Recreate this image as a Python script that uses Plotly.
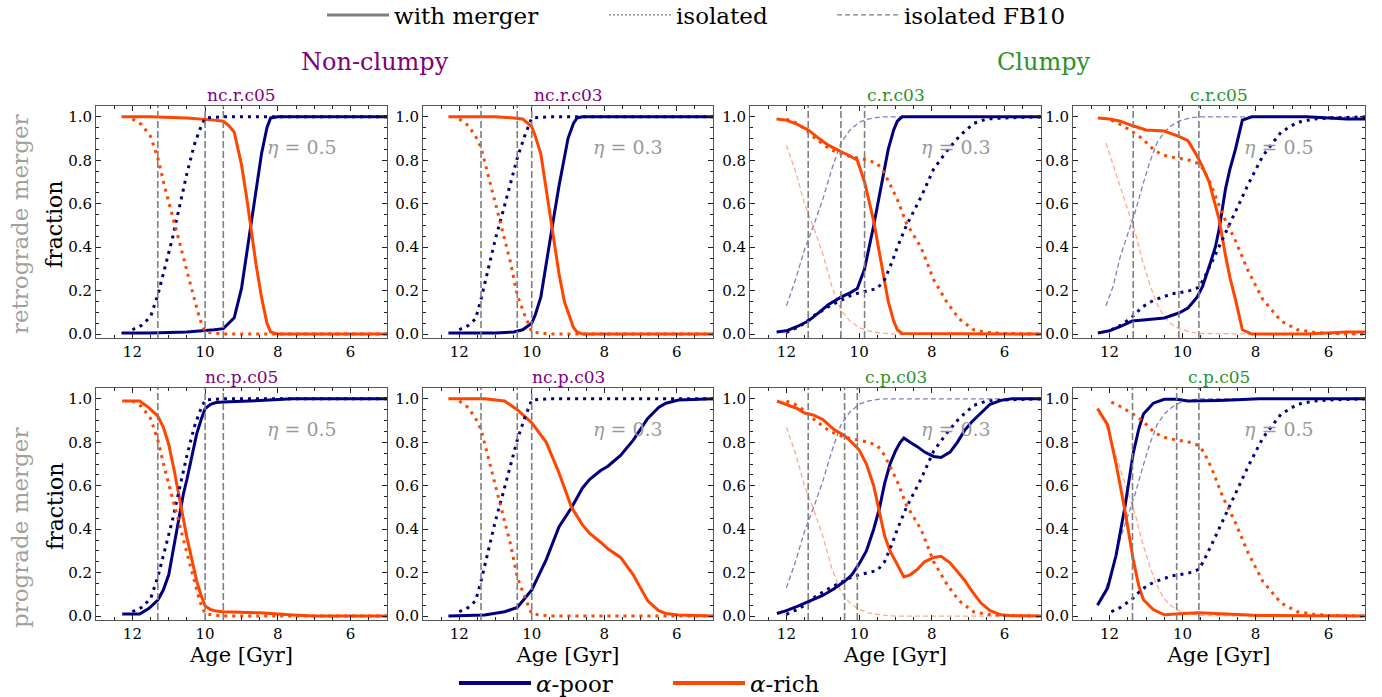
import plotly.graph_objects as go

# ---------------- data ----------------
AGE_TICKS = [12, 10, 8, 6]
FRAC_TICKS = [0.0, 0.2, 0.4, 0.6, 0.8, 1.0]

# isolated runs (dotted)
iso_nc05_age = [12.0, 11.75, 11.5, 11.3, 11.1, 10.9, 10.7, 10.5, 10.3, 10.15, 10.0, 9.5, 5.0]
iso_nc05_poor = [0.02, 0.04, 0.08, 0.18, 0.31, 0.44, 0.59, 0.74, 0.87, 0.94, 0.995, 1.0, 1.0]
iso_nc05_rich = [0.99, 0.965, 0.91, 0.81, 0.67, 0.55, 0.42, 0.29, 0.16, 0.07, 0.01, 0.0, 0.0]

iso_nc03_age = [12.0, 11.75, 11.55, 11.4, 11.2, 11.0, 10.8, 10.6, 10.4, 10.2, 10.0, 9.5, 5.0]
iso_nc03_poor = [0.02, 0.04, 0.07, 0.16, 0.30, 0.44, 0.56, 0.68, 0.81, 0.91, 0.995, 1.0, 1.0]
iso_nc03_rich = [0.99, 0.96, 0.91, 0.86, 0.73, 0.60, 0.47, 0.34, 0.18, 0.09, 0.01, 0.0, 0.0]

iso_c03_age = [12.0, 11.7, 11.5, 11.2, 10.8, 10.5, 10.2, 10.0, 9.75, 9.5, 9.3, 9.1, 8.95, 8.7,
               8.3, 7.95, 7.6, 7.25, 6.85, 6.5, 6.0, 5.0]
iso_c03_poor = [0.008, 0.03, 0.05, 0.09, 0.13, 0.155, 0.18, 0.19, 0.20, 0.21, 0.25, 0.33, 0.40, 0.50,
                0.63, 0.76, 0.84, 0.91, 0.97, 0.99, 0.995, 1.0]
iso_c03_rich = [0.99, 0.97, 0.945, 0.90, 0.85, 0.83, 0.815, 0.81, 0.80, 0.785, 0.74, 0.67, 0.62, 0.51,
                0.40, 0.25, 0.15, 0.07, 0.02, 0.008, 0.003, 0.0]

iso_c05_age = [11.95, 11.7, 11.4, 11.1, 10.8, 10.55, 10.3, 10.1, 9.8, 9.55, 9.4, 9.2, 8.9, 8.55,
               8.2, 7.8, 7.3, 6.85, 6.4, 6.0, 5.0]
iso_c05_poor = [0.02, 0.04, 0.075, 0.125, 0.155, 0.17, 0.185, 0.19, 0.20, 0.215, 0.26, 0.33, 0.44, 0.56,
                0.69, 0.82, 0.93, 0.975, 0.99, 0.995, 1.0]
iso_c05_rich = [0.985, 0.965, 0.935, 0.90, 0.85, 0.825, 0.815, 0.81, 0.80, 0.785, 0.75, 0.68, 0.55, 0.43,
                0.29, 0.16, 0.06, 0.02, 0.008, 0.003, 0.0]

# isolated FB10 runs (thin dashed)
fb10_c03_age = [12.0, 11.75, 11.5, 11.25, 11.0, 10.75, 10.5, 10.25, 10.0, 9.75, 9.4, 9.0, 8.0, 5.0]
fb10_c03_poor = [0.13, 0.25, 0.39, 0.50, 0.62, 0.76, 0.88, 0.94, 0.975, 0.99, 1.0, 1.0, 1.0, 1.0]
fb10_c03_rich = [0.87, 0.75, 0.60, 0.49, 0.37, 0.22, 0.11, 0.06, 0.03, 0.015, 0.005, 0.0, 0.0, 0.0]

fb10_c05_age = [12.1, 11.9, 11.7, 11.5, 11.3, 11.1, 10.9, 10.7, 10.5, 10.3, 10.1, 9.8, 9.5, 8.0, 5.0]
fb10_c05_poor = [0.13, 0.22, 0.36, 0.46, 0.56, 0.68, 0.79, 0.88, 0.93, 0.96, 0.98, 0.995, 1.0, 1.0, 1.0]
fb10_c05_rich = [0.88, 0.78, 0.68, 0.58, 0.47, 0.34, 0.23, 0.14, 0.08, 0.045, 0.025, 0.01, 0.003, 0.0, 0.0]

# runs with merger (solid)
m_ncr05_age = [12.3, 11.5, 10.5, 10.0, 9.75, 9.5, 9.35, 9.2, 9.0, 8.85, 8.75, 8.6, 8.45, 8.3, 8.2, 8.0, 5.0]
m_ncr05_poor = [0.005, 0.005, 0.01, 0.015, 0.02, 0.025, 0.05, 0.075, 0.21, 0.38, 0.50, 0.68, 0.83, 0.95, 0.995, 1.0, 1.0]
m_ncr05_rich = [1.0, 1.0, 0.995, 0.99, 0.985, 0.98, 0.96, 0.93, 0.78, 0.62, 0.50, 0.32, 0.17, 0.05, 0.01, 0.0, 0.0]

m_ncr03_age = [12.3, 11.0, 10.5, 10.25, 10.0, 9.9, 9.75, 9.6, 9.5, 9.4, 9.25, 9.1, 9.0, 8.85, 8.75, 8.6, 5.0]
m_ncr03_poor = [0.005, 0.005, 0.01, 0.02, 0.05, 0.09, 0.17, 0.33, 0.44, 0.53, 0.68, 0.82, 0.90, 0.97, 0.995, 1.0, 1.0]
m_ncr03_rich = [1.0, 1.0, 0.995, 0.99, 0.955, 0.91, 0.83, 0.66, 0.55, 0.45, 0.28, 0.15, 0.10, 0.03, 0.01, 0.0, 0.0]

m_crc03_age = [12.27, 12.0, 11.7, 11.4, 11.1, 10.85, 10.5, 10.25, 10.05, 9.85, 9.6, 9.35, 9.2, 9.05, 8.95, 8.82, 5.0]
m_crc03_poor = [0.01, 0.015, 0.035, 0.06, 0.10, 0.135, 0.17, 0.19, 0.21, 0.30, 0.50, 0.73, 0.85, 0.94, 0.98, 1.0, 1.0]
m_crc03_rich = [0.99, 0.985, 0.965, 0.94, 0.90, 0.87, 0.84, 0.82, 0.80, 0.70, 0.52, 0.28, 0.15, 0.06, 0.02, 0.003, 0.0]

m_crc05_age = [12.32, 12.0, 11.7, 11.38, 11.0, 10.5, 10.1, 9.85, 9.6, 9.45, 9.27, 9.1, 9.0, 8.82, 8.7,
               8.55, 8.36, 8.1, 6.6, 5.5, 5.0]
m_crc05_poor = [0.005, 0.015, 0.035, 0.06, 0.066, 0.074, 0.097, 0.12, 0.17, 0.22, 0.31, 0.40, 0.48, 0.67, 0.76,
                0.85, 0.985, 1.0, 1.0, 0.99, 0.99]
m_crc05_rich = [0.995, 0.99, 0.98, 0.96, 0.94, 0.935, 0.91, 0.89, 0.82, 0.77, 0.70, 0.60, 0.53, 0.36, 0.26,
                0.16, 0.02, 0.0, 0.0, 0.01, 0.01]

m_ncp05_age = [12.28, 11.8, 11.55, 11.3, 11.15, 11.0, 10.85, 10.75, 10.6, 10.5, 10.35, 10.23, 10.1, 10.0,
               9.85, 9.7, 9.5, 9.0, 8.5, 7.6, 7.0, 5.0]
m_ncp05_poor = [0.01, 0.01, 0.035, 0.074, 0.12, 0.19, 0.33, 0.43, 0.56, 0.63, 0.75, 0.84, 0.91, 0.955,
                0.975, 0.983, 0.985, 0.99, 0.992, 1.0, 1.0, 1.0]
m_ncp05_rich = [0.99, 0.99, 0.96, 0.92, 0.87, 0.79, 0.67, 0.58, 0.44, 0.36, 0.25, 0.16, 0.09, 0.046,
                0.03, 0.023, 0.02, 0.018, 0.015, 0.005, 0.0, 0.0]

m_ncp03_age = [12.3, 11.3, 10.75, 10.4, 10.0, 9.6, 9.25, 8.9, 8.6, 8.4, 8.1, 7.9, 7.55, 7.2, 6.8, 6.5, 6.3, 5.95, 5.0]
m_ncp03_poor = [0.0, 0.005, 0.02, 0.04, 0.12, 0.26, 0.41, 0.50, 0.59, 0.63, 0.67, 0.69, 0.74, 0.81, 0.91, 0.96, 0.98, 0.995, 1.0]
m_ncp03_rich = [1.0, 1.0, 0.99, 0.95, 0.89, 0.80, 0.66, 0.50, 0.42, 0.38, 0.34, 0.31, 0.27, 0.19, 0.07, 0.025, 0.012, 0.005, 0.0]

m_cpc03_age = [12.26, 12.0, 11.7, 11.5, 11.25, 11.0, 10.7, 10.4, 10.2, 10.0, 9.8, 9.6, 9.45, 9.3, 9.15, 9.0,
               8.87, 8.77, 8.6, 8.4, 8.2, 7.95, 7.75, 7.5, 7.3, 7.1, 6.9, 6.65, 6.4, 6.1, 5.8, 5.0]
m_cpc03_poor = [0.012, 0.025, 0.045, 0.06, 0.075, 0.095, 0.125, 0.16, 0.19, 0.24, 0.30, 0.40, 0.49, 0.61, 0.70, 0.76,
                0.80, 0.82, 0.80, 0.78, 0.755, 0.735, 0.73, 0.755, 0.80, 0.855, 0.895, 0.935, 0.975, 0.993, 1.0, 1.0]
m_cpc03_rich = [0.99, 0.975, 0.955, 0.935, 0.925, 0.905, 0.86, 0.83, 0.80, 0.765, 0.70, 0.60, 0.48, 0.37, 0.30, 0.25,
                0.21, 0.18, 0.19, 0.215, 0.25, 0.27, 0.275, 0.245, 0.205, 0.165, 0.115, 0.06, 0.025, 0.006, 0.002, 0.0]

m_cpc05_age = [12.33, 12.05, 11.82, 11.58, 11.35, 11.2, 11.07, 10.8, 10.5, 10.15, 9.85, 9.55, 9.0, 8.5, 7.9, 5.0]
m_cpc05_poor = [0.05, 0.13, 0.28, 0.50, 0.75, 0.86, 0.93, 0.98, 0.998, 0.998, 0.99, 0.99, 0.993, 0.996, 1.0, 1.0]
m_cpc05_rich = [0.955, 0.88, 0.70, 0.49, 0.26, 0.14, 0.075, 0.03, 0.006, 0.008, 0.013, 0.015, 0.012, 0.008, 0.003, 0.0]

# vertical reference ages (gray dashed)
vl_ncr05 = [11.3, 10.0, 9.5]
vl_ncr03 = [11.4, 10.4, 10.0]
vl_crc03 = [11.4, 10.5, 9.85]
vl_crc05 = [11.35, 10.1, 9.55]
vl_ncp05 = [11.3, 10.0, 9.5]
vl_ncp03 = [11.4, 10.4, 10.0]
vl_cpc03 = [11.4, 10.4, 10.05]
vl_cpc05 = [11.37, 10.16, 9.55]

panel_titles = ["nc.r.c05", "nc.r.c03", "c.r.c03", "c.r.c05",
                "nc.p.c05", "nc.p.c03", "c.p.c03", "c.p.c05"]
panel_eta = ["0.5", "0.3", "0.3", "0.5", "0.5", "0.3", "0.3", "0.5"]
row_labels = ["retrograde merger", "prograde merger"]
group_labels = ["Non-clumpy", "Clumpy"]
legend_top = ["with merger", "isolated", "isolated FB10"]
legend_bottom = ["<i>α</i>-poor", "<i>α</i>-rich"]

# ---------------- styling ----------------
FONT = "DejaVu Serif"
NAVY = "#00007f"
ORANGE = "#ff4500"
NAVY_LIGHT = "rgba(0,0,128,0.5)"
ORANGE_LIGHT = "rgba(255,69,0,0.45)"
PURPLE = "#800080"
GREEN = "#2a922a"
GRAY = "#808080"

W, H = 1382, 697
col_px = [(96, 387), (423, 713), (750, 1041), (1073, 1365)]
row_px = [(106, 338), (388, 620)]

merger = [(m_ncr05_age, m_ncr05_poor, m_ncr05_rich), (m_ncr03_age, m_ncr03_poor, m_ncr03_rich),
          (m_crc03_age, m_crc03_poor, m_crc03_rich), (m_crc05_age, m_crc05_poor, m_crc05_rich),
          (m_ncp05_age, m_ncp05_poor, m_ncp05_rich), (m_ncp03_age, m_ncp03_poor, m_ncp03_rich),
          (m_cpc03_age, m_cpc03_poor, m_cpc03_rich), (m_cpc05_age, m_cpc05_poor, m_cpc05_rich)]
iso_nc05 = (iso_nc05_age, iso_nc05_poor, iso_nc05_rich)
iso_nc03 = (iso_nc03_age, iso_nc03_poor, iso_nc03_rich)
iso_c03 = (iso_c03_age, iso_c03_poor, iso_c03_rich)
iso_c05 = (iso_c05_age, iso_c05_poor, iso_c05_rich)
isolated = [iso_nc05, iso_nc03, iso_c03, iso_c05] * 2
fb10_c03 = (fb10_c03_age, fb10_c03_poor, fb10_c03_rich)
fb10_c05 = (fb10_c05_age, fb10_c05_poor, fb10_c05_rich)
fb10 = [None, None, fb10_c03, fb10_c05] * 2
vlines = [vl_ncr05, vl_ncr03, vl_crc03, vl_crc05, vl_ncp05, vl_ncp03, vl_cpc03, vl_cpc05]

fig = go.Figure()
layout = {}
annotations = []
shapes = []

for i in range(8):
    n = i + 1
    r, c = divmod(i, 4)
    sfx = "" if n == 1 else str(n)
    xr, yr = "x" + sfx, "y" + sfx

    if fb10[i] is not None:
        a, p, q = fb10[i]
        fig.add_trace(go.Scatter(x=a, y=p, mode="lines", xaxis=xr, yaxis=yr, showlegend=False,
                                 line=dict(color=NAVY_LIGHT, width=1.3, dash="5px,3px")))
        fig.add_trace(go.Scatter(x=a, y=q, mode="lines", xaxis=xr, yaxis=yr, showlegend=False,
                                 line=dict(color=ORANGE_LIGHT, width=1.3, dash="5px,3px")))
    a, p, q = merger[i]
    fig.add_trace(go.Scatter(x=a, y=p, mode="lines", xaxis=xr, yaxis=yr, showlegend=False,
                             line=dict(color=NAVY, width=3)))
    fig.add_trace(go.Scatter(x=a, y=q, mode="lines", xaxis=xr, yaxis=yr, showlegend=False,
                             line=dict(color=ORANGE, width=3)))
    a, p, q = isolated[i]
    fig.add_trace(go.Scatter(x=a, y=p, mode="lines", xaxis=xr, yaxis=yr, showlegend=False,
                             line=dict(color=NAVY, width=3, dash="3px,5px")))
    fig.add_trace(go.Scatter(x=a, y=q, mode="lines", xaxis=xr, yaxis=yr, showlegend=False,
                             line=dict(color=ORANGE, width=3, dash="3px,5px")))

    x0, x1 = col_px[c]
    y0, y1 = row_px[r]
    common = dict(showline=True, linecolor="#555555", linewidth=1, mirror="allticks",
                  ticks="inside", ticklen=5, tickwidth=1, tickcolor="#222222",
                  showgrid=False, zeroline=False, automargin=False,
                  tickfont=dict(family=FONT, size=15, color="black"))
    layout["xaxis" + sfx] = dict(common, domain=[x0 / W, x1 / W], anchor=yr, range=[13, 5],
                                 tickvals=AGE_TICKS,
                                 minor=dict(ticks="inside", dtick=0.5, ticklen=3, tickcolor="#222222"),
                                 title=dict(text="Age [Gyr]" if r == 1 else "",
                                            font=dict(family=FONT, size=21, color="black"),
                                            standoff=2))
    layout["yaxis" + sfx] = dict(common, domain=[1 - y1 / H, 1 - y0 / H], anchor=xr, range=[-0.018, 1.05],
                                 tickvals=FRAC_TICKS, tickformat=".1f",
                                 minor=dict(ticks="inside", dtick=0.05, ticklen=3, tickcolor="#222222"))

    for v in vlines[i]:
        shapes.append(dict(type="line", xref=xr, yref=yr + " domain", x0=v, x1=v, y0=0, y1=1,
                           line=dict(color=GRAY, width=1.6, dash="7px,3px")))

    annotations.append(dict(text=panel_titles[i], xref=xr + " domain", yref=yr + " domain",
                            x=0.5, y=1.0, xanchor="center", yanchor="bottom", showarrow=False, yshift=-1,
                            font=dict(family=FONT, size=17, color=PURPLE if c < 2 else GREEN)))
    annotations.append(dict(text="<i>η</i> = " + panel_eta[i], xref=xr, yref=yr, x=7.35, y=0.86,
                            xanchor="center", yanchor="middle", showarrow=False,
                            font=dict(family=FONT, size=19, color="#9a9a9a")))

# row labels and y titles
for r in range(2):
    y0, y1 = row_px[r]
    yc = [224, 528][r]
    annotations.append(dict(text=row_labels[r], xref="paper", yref="paper", x=20 / W, y=1 - yc / H,
                            textangle=-90, showarrow=False, xanchor="center", yanchor="middle",
                            font=dict(family=FONT, size=23, color="#a0a0a0")))
    annotations.append(dict(text="fraction", xref="paper", yref="paper", x=55 / W,
                            y=1 - ((y0 + y1) / 2 + 3) / H,
                            textangle=-90, showarrow=False, xanchor="center", yanchor="middle",
                            font=dict(family=FONT, size=22, color="black")))

annotations.append(dict(text=group_labels[0], xref="paper", yref="paper", x=375 / W, y=1 - 62 / H,
                        xanchor="center", yanchor="middle",
                        showarrow=False, font=dict(family=FONT, size=24, color=PURPLE)))
annotations.append(dict(text=group_labels[1], xref="paper", yref="paper", x=1044 / W, y=1 - 62 / H,
                        xanchor="center", yanchor="middle",
                        showarrow=False, font=dict(family=FONT, size=24, color=GREEN)))

# legend-only traces, one legend box per entry so each can be placed
legend_styles = [dict(color=GRAY, width=3), dict(color=GRAY, width=1.3, dash="2px,2px"),
                 dict(color=GRAY, width=1.3, dash="5px,3px")]
top_line_start = [330, 612, 840]
bottom_line_start = [462, 676]
legend_layout = {}
k = 0
for name, st, xs in zip(legend_top, legend_styles, top_line_start):
    k += 1
    lname = "legend" if k == 1 else f"legend{k}"
    fig.add_trace(go.Scatter(x=[None], y=[None], mode="lines", name=name, line=st, legend=lname))
    legend_layout[lname] = dict(orientation="h", x=(xs - 8) / W, y=1 - 15 / H, xanchor="left",
                                yanchor="middle", font=dict(family=FONT, size=23, color="black"),
                                itemwidth=62, bgcolor="rgba(0,0,0,0)")
for name, col, xs in zip(legend_bottom, [NAVY, ORANGE], bottom_line_start):
    k += 1
    lname = f"legend{k}"
    fig.add_trace(go.Scatter(x=[None], y=[None], mode="lines", name=name, line=dict(color=col, width=4),
                             legend=lname))
    legend_layout[lname] = dict(orientation="h", x=(xs - 8) / W, y=1 - 683 / H, xanchor="left",
                                yanchor="middle", font=dict(family=FONT, size=23, color="black"),
                                itemwidth=72, bgcolor="rgba(0,0,0,0)")

fig.update_layout(
    width=W, height=H, margin=dict(l=0, r=0, t=0, b=0, autoexpand=False),
    paper_bgcolor="white", plot_bgcolor="white",
    annotations=annotations, shapes=shapes,
    **legend_layout,
    **layout,
)

fig.write_html("out.html", config={"displayModeBar": False},
               post_script="document.body.style.margin='0';document.body.style.overflow='hidden';")
